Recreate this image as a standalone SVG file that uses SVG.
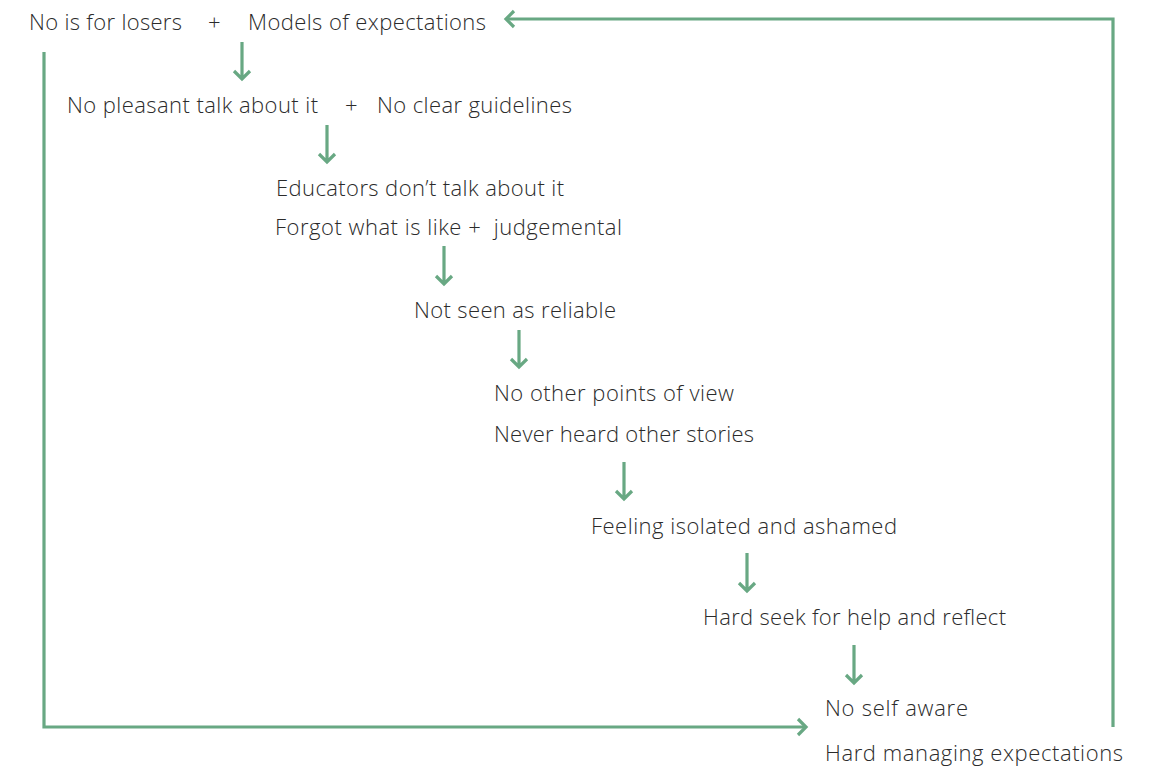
<svg xmlns="http://www.w3.org/2000/svg" width="1161" height="766" viewBox="0 0 1161 766">
<style>
text{font-family:"Open Sans","Lato","Liberation Sans",sans-serif;font-size:22px;font-weight:300;fill:#2b2b2b;}
.c{fill:none;stroke:#68a883;stroke-width:3.2;stroke-linecap:butt;stroke-linejoin:miter;}
</style>
<rect width="1161" height="766" fill="#ffffff"/>
<g id="connectors">
<polyline class="c" points="1113,727 1113,19 506,19"/>
<polyline class="c" points="514,11 506,19 514,27"/>
<polyline class="c" points="44,52 44,727 806,727"/>
<polyline class="c" points="798,719 806,727 798,735"/>
<path class="c" d="M242,42V79M234,71l8,8l8,-8"/>
<path class="c" d="M327,125V162M319,154l8,8l8,-8"/>
<path class="c" d="M444,246V284M436,276l8,8l8,-8"/>
<path class="c" d="M519,330V367M511,359l8,8l8,-8"/>
<path class="c" d="M624,462V499M616,491l8,8l8,-8"/>
<path class="c" d="M747,553V591M739,583l8,8l8,-8"/>
<path class="c" d="M854,645V683M846,675l8,8l8,-8"/>
</g>
<g id="n1"><text x="29" y="30" textLength="153">No is for losers</text><text x="208" y="30">+</text><text x="248" y="30" textLength="238">Models of expectations</text></g>
<g id="n2"><text x="67" y="113" textLength="251">No pleasant talk about it</text><text x="345" y="113">+</text><text x="377" y="113" textLength="195">No clear guidelines</text></g>
<g id="n3"><text x="276" y="196" textLength="288">Educators don’t talk about it</text><text x="275" y="235" xml:space="preserve" textLength="347">Forgot what is like +  judgemental</text></g>
<g id="n4"><text x="414" y="318" textLength="202">Not seen as reliable</text></g>
<g id="n5"><text x="494" y="401" textLength="240">No other points of view</text><text x="494" y="442" textLength="260">Never heard other stories</text></g>
<g id="n6"><text x="591" y="534" textLength="306">Feeling isolated and ashamed</text></g>
<g id="n7"><text x="703" y="625" textLength="303">Hard seek for help and reflect</text></g>
<g id="n8"><text x="825" y="716" textLength="143">No self aware</text><text x="825" y="761" textLength="298">Hard managing expectations</text></g>
</svg>
